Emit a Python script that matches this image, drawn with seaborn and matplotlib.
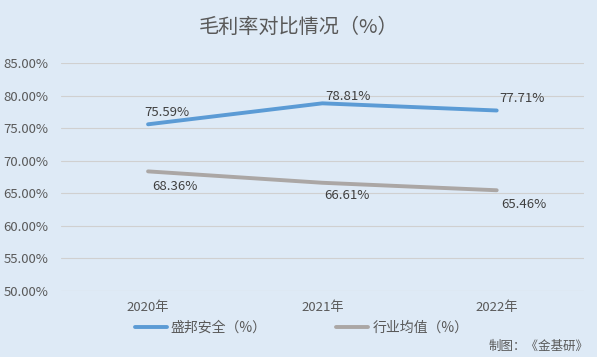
import matplotlib
matplotlib.use("Agg")
import matplotlib.pyplot as plt
import seaborn as sns
import pandas as pd
from matplotlib.ticker import FuncFormatter
from matplotlib.lines import Line2D

years = ["2020年", "2021年", "2022年"]
shengbang = [75.59, 78.81, 77.71]
industry = [68.36, 66.61, 65.46]
series_names = ["盛邦安全（%）", "行业均值（%）"]
yticks = [50, 55, 60, 65, 70, 75, 80, 85]

sns.set_theme(style="white")
plt.rcParams['font.family'] = ['Noto Sans CJK SC', 'DejaVu Sans']

bg = "#DEEAF6"
txt = "#595959"
colors = ["#5B9BD5", "#ABA7A5"]

df = pd.DataFrame({
    "year": years * 2,
    "value": shengbang + industry,
    "series": [series_names[0]] * 3 + [series_names[1]] * 3,
})

fig = plt.figure(figsize=(5.97, 3.57), dpi=100, facecolor=bg)
ax = fig.add_axes([0.102, 0.185, 0.876, 0.6385])
ax.set_facecolor(bg)

sns.lineplot(data=df, x="year", y="value", hue="series", palette=colors,
             linewidth=2.8, ax=ax, sort=False, legend=False)
for ln in ax.lines:
    ln.set_solid_capstyle("round")

ax.set_xlim(-0.5, 2.5)
ax.set_ylim(50, 85)
ax.set_yticks(yticks)
ax.yaxis.set_major_formatter(FuncFormatter(lambda v, p: f"{v:.2f}%"))
ax.grid(axis="y", color="#D0D0D0", linewidth=0.8)
ax.set_axisbelow(True)
for s in ax.spines.values():
    s.set_visible(False)
ax.tick_params(axis="both", length=0, labelsize=9.5, colors=txt)
ax.tick_params(axis="y", pad=9)
ax.tick_params(axis="x", pad=7)
ax.set_xlabel("")
ax.set_ylabel("")

# label offsets in pixels (dx to left edge, dy to center; positive dy = down)
blue_off = [(-4, -12), (3, -7), (3, -12)]
gray_off = [(4, 15), (2, 13), (5, 14)]
for i, v in enumerate(shengbang):
    dx, dy = blue_off[i]
    ax.annotate(f"{v:.2f}%", (i, v), xytext=(dx * 0.72, -dy * 0.72),
                textcoords="offset points", ha="left", va="center",
                fontsize=9.5, color="#404040")
for i, v in enumerate(industry):
    dx, dy = gray_off[i]
    ax.annotate(f"{v:.2f}%", (i, v), xytext=(dx * 0.72, -dy * 0.72),
                textcoords="offset points", ha="left", va="center",
                fontsize=9.5, color="#404040")

fig.text(0.5, 0.922, "毛利率对比情况（%）", ha="center", va="center",
         fontsize=14.5, color=txt)

handles = [Line2D([0], [0], color=c, linewidth=2.8, solid_capstyle="round")
           for c in colors]
leg = fig.legend(handles, series_names, loc="center", bbox_to_anchor=(0.505, 0.083),
                 ncol=2, frameon=False, fontsize=10, handlelength=2.3,
                 columnspacing=5.0, handletextpad=0.3)
for t in leg.get_texts():
    t.set_color(txt)

fig.text(0.985, 0.03, "制图：《金基研》", ha="right", va="center",
         fontsize=9, color=txt)

fig.savefig("out.png", dpi=100, facecolor=bg)
